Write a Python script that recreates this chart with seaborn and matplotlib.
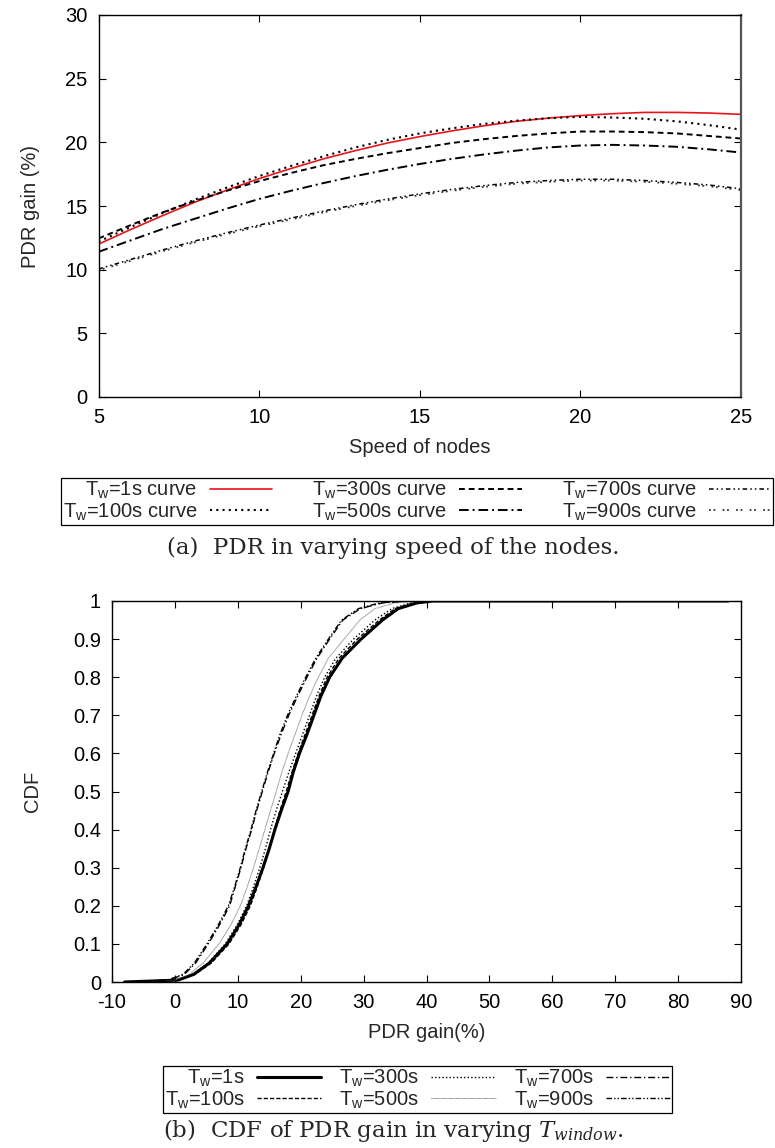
import matplotlib
matplotlib.use("Agg")
import matplotlib.pyplot as plt
import seaborn as sns
import pandas as pd

# ---------------- data: (a) PDR gain vs speed ----------------
speed = [5, 6, 7, 8, 9, 10, 11, 12, 13, 14, 15, 16, 17, 18, 19, 20, 21, 22, 23, 24, 25]
pdr_1s = [12.0, 13.15, 14.25, 15.3, 16.25, 17.15, 17.95, 18.7, 19.35, 19.95, 20.45, 20.9, 21.3, 21.65, 21.9, 22.1, 22.25, 22.35, 22.35, 22.3, 22.2]
pdr_100s = [12.2, 13.35, 14.45, 15.5, 16.45, 17.35, 18.15, 18.9, 19.6, 20.2, 20.7, 21.1, 21.45, 21.7, 21.9, 22.0, 21.95, 21.85, 21.65, 21.35, 21.0]
pdr_300s = [12.45, 13.5, 14.5, 15.4, 16.2, 16.95, 17.6, 18.2, 18.7, 19.15, 19.55, 19.95, 20.25, 20.5, 20.7, 20.85, 20.85, 20.8, 20.7, 20.5, 20.3]
pdr_500s = [11.4, 12.3, 13.2, 14.0, 14.8, 15.55, 16.2, 16.8, 17.35, 17.85, 18.3, 18.7, 19.05, 19.35, 19.6, 19.75, 19.8, 19.75, 19.65, 19.45, 19.2]
pdr_700s = [10.05, 10.8, 11.55, 12.25, 12.9, 13.5, 14.05, 14.6, 15.1, 15.55, 15.95, 16.3, 16.6, 16.85, 17.0, 17.1, 17.1, 17.0, 16.85, 16.65, 16.35]
pdr_900s = [9.95, 10.7, 11.45, 12.15, 12.8, 13.4, 13.95, 14.5, 15.0, 15.45, 15.85, 16.2, 16.5, 16.75, 16.9, 17.0, 17.0, 16.9, 16.75, 16.55, 16.25]

# ---------------- data: (b) CDF of PDR gain ----------------
cdf_levels = [0, 0.005, 0.02, 0.05, 0.1, 0.15, 0.2, 0.25, 0.3, 0.35, 0.4, 0.45, 0.5,
              0.55, 0.6, 0.65, 0.7, 0.75, 0.8, 0.85, 0.9, 0.95, 0.98, 0.995, 1.0, 1.0]
gain_1s = [-8, 0.5, 3.0, 5.5, 8.3, 10.2, 11.7, 12.9, 14.0, 15.0, 15.9, 16.9, 18.0, 18.8, 19.8, 21.0, 22.1, 23.2, 24.6, 26.6, 29.6, 33.0, 35.5, 38.5, 41, 88]
gain_100s = [-8, 0.6, 3.2, 5.8, 8.6, 10.5, 12.0, 13.1, 14.1, 15.0, 15.8, 16.7, 17.7, 18.6, 19.6, 20.7, 21.8, 22.9, 24.2, 26.1, 29.0, 32.5, 35.0, 38.0, 40.8, 88]
gain_300s = [-7.5, 0.3, 2.8, 5.3, 8.0, 9.9, 11.4, 12.5, 13.5, 14.4, 15.2, 16.1, 17.1, 18.1, 19.2, 20.3, 21.4, 22.5, 23.8, 25.6, 28.4, 31.8, 34.5, 37.5, 40.5, 88]
gain_500s = [-7, 0.0, 2.3, 4.5, 7.0, 8.9, 10.4, 11.5, 12.5, 13.4, 14.3, 15.2, 16.1, 17.0, 18.0, 19.1, 20.2, 21.4, 22.8, 24.4, 26.9, 29.4, 31.8, 35, 39, 88]
gain_700s = [-7, -1.0, 1.5, 3.3, 5.3, 7.1, 8.7, 9.6, 10.5, 11.3, 12.2, 13.0, 13.9, 14.8, 15.8, 16.9, 18.1, 19.5, 21.0, 22.6, 24.6, 26.7, 29.5, 33, 37, 88]
gain_900s = [-7.5, -1.2, 1.3, 3.1, 5.1, 6.9, 8.5, 9.5, 10.4, 11.2, 12.1, 12.9, 13.8, 14.7, 15.7, 16.7, 17.9, 19.3, 20.8, 22.4, 24.4, 26.5, 29.2, 32.5, 36.5, 88]

windows = ["1s", "100s", "300s", "500s", "700s", "900s"]
top_x_ticks = [5, 10, 15, 20, 25]
top_y_ticks = [0, 5, 10, 15, 20, 25, 30]
bot_x_ticks = [-10, 0, 10, 20, 30, 40, 50, 60, 70, 80, 90]
bot_y_ticks = [0, 0.1, 0.2, 0.3, 0.4, 0.5, 0.6, 0.7, 0.8, 0.9, 1]
bot_y_labels = ["0", "0.1", "0.2", "0.3", "0.4", "0.5", "0.6", "0.7", "0.8", "0.9", "1"]

# ---------------- style ----------------
sns.set_style("ticks")
plt.rcParams["font.family"] = ["Liberation Sans", "DejaVu Sans"]
plt.rcParams["axes.unicode_minus"] = False
plt.rcParams["mathtext.fontset"] = "custom"
plt.rcParams["mathtext.it"] = "DejaVu Serif:italic"
plt.rcParams["mathtext.rm"] = "DejaVu Serif"

FS = 14.5
W, H = 775, 1148
fig = plt.figure(figsize=(W / 100, H / 100), dpi=100)

def fx(px):
    return px / W

def fy(py):
    return 1 - py / H

ax1 = fig.add_axes([fx(98.5), fy(397), fx(741 - 98.5), (397 - 15) / H])
ax2 = fig.add_axes([fx(112), fy(982), fx(741 - 112), (982 - 601) / H])

# ---------------- (a) ----------------
top_series = [pdr_1s, pdr_100s, pdr_300s, pdr_500s, pdr_700s, pdr_900s]
top_styles = [
    dict(color="#e8141b", linewidth=1.2, linestyle="-"),
    dict(color="black", linewidth=1.5, linestyle=(0, (1, 2))),
    dict(color="black", linewidth=1.4, linestyle=(0, (3, 2))),
    dict(color="black", linewidth=1.4, linestyle=(0, (5, 2, 1, 2))),
    dict(color="black", linewidth=1.1, linestyle=(0, (3, 2, 1, 2, 1, 2))),
    dict(color="#333333", linewidth=1.3, linestyle=(0, (1, 1.5, 1, 4))),
]
for w, vals, st in zip(windows, top_series, top_styles):
    df = pd.DataFrame({"speed": speed, "gain": vals})
    sns.lineplot(data=df, x="speed", y="gain", ax=ax1,
                 label=r"T$_\mathregular{w}$=" + w + " curve", **st)

ax1.set_xlim(5, 25)
ax1.set_ylim(0, 30)
ax1.set_xticks(top_x_ticks)
ax1.set_yticks(top_y_ticks)
ax1.set_xlabel("Speed of nodes", fontsize=FS, labelpad=8)
ax1.set_ylabel("PDR gain (%)", fontsize=FS, labelpad=18)
h1, l1 = ax1.get_legend_handles_labels()
ax1.get_legend().remove()

# ---------------- (b) ----------------
bot_series = [gain_1s, gain_100s, gain_300s, gain_500s, gain_700s, gain_900s]
bot_styles = [
    dict(color="black", linewidth=2.2, linestyle="-"),
    dict(color="black", linewidth=1.0, linestyle=(0, (3, 1.5))),
    dict(color="black", linewidth=1.0, linestyle=(0, (1, 1.6))),
    dict(color="#555555", linewidth=0.7, linestyle=(0, (0.6, 0.6))),
    dict(color="black", linewidth=1.0, linestyle=(0, (5, 2, 1, 2))),
    dict(color="black", linewidth=1.0, linestyle=(0, (4, 1.5, 1, 1.5, 1, 1.5))),
]
for w, vals, st in zip(windows, bot_series, bot_styles):
    df = pd.DataFrame({"gain": vals, "cdf": cdf_levels})
    sns.lineplot(data=df, x="gain", y="cdf", ax=ax2, sort=False, estimator=None,
                 label=r"T$_\mathregular{w}$=" + w, **st)

ax2.set_xlim(-10, 90)
ax2.set_ylim(0, 1)
ax2.set_xticks(bot_x_ticks)
ax2.set_yticks(bot_y_ticks)
ax2.set_yticklabels(bot_y_labels)
ax2.set_xlabel("PDR gain(%)", fontsize=FS, labelpad=8)
ax2.set_ylabel("CDF", fontsize=FS, labelpad=22)
h2, l2 = ax2.get_legend_handles_labels()
ax2.get_legend().remove()

for ax in (ax1, ax2):
    for s in ax.spines.values():
        s.set_visible(True)
        s.set_color("black")
        s.set_linewidth(1.0)
    ax.tick_params(direction="in", length=5, width=0.8, top=True, right=True,
                   labelsize=FS, pad=8, colors="black")
ax1.spines["right"].set_color("#555555")
ax1.spines["right"].set_linewidth(1.6)

# ---------------- legends ----------------
leg_kw = dict(loc="upper left", mode="expand", ncol=3, markerfirst=False,
              frameon=True, fancybox=False, edgecolor="black", framealpha=1,
              borderpad=0.1, labelspacing=0.0, handletextpad=0.6,
              columnspacing=0.8, fontsize=FS, borderaxespad=0)
lg1 = fig.legend(h1, l1, bbox_to_anchor=(fx(61), fy(478), fx(773 - 61), 0),
                 handlelength=3.1, **leg_kw)
lg2 = fig.legend(h2, l2, bbox_to_anchor=(fx(163), fy(1066), fx(672 - 163), 0),
                 handlelength=3.2, **leg_kw)
for lg in (lg1, lg2):
    lg.get_frame().set_linewidth(0.9)

# ---------------- captions ----------------
fig.text(fx(393), fy(548), "(a)  PDR in varying speed of the nodes.",
         ha="center", va="center", fontsize=16.5, family="DejaVu Serif")
fig.text(fx(393), fy(1131), r"(b)  CDF of PDR gain in varying $T_{window}$.",
         ha="center", va="center", fontsize=16.5, family="DejaVu Serif")

fig.savefig("out.png", dpi=100)
